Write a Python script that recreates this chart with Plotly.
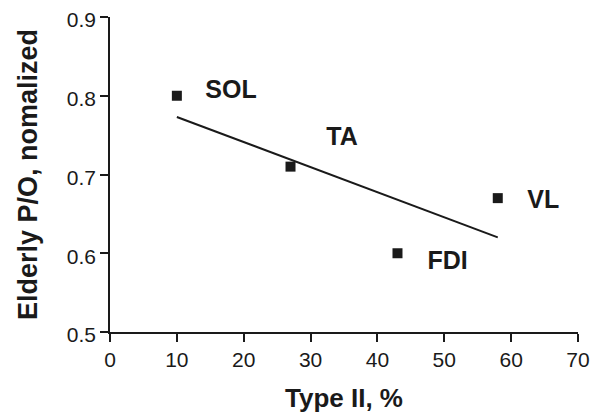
import numpy as np
import plotly.graph_objects as go

muscles = ["SOL", "TA", "FDI", "VL"]
type_ii = [10, 27, 43, 58]
po_norm = [0.80, 0.71, 0.60, 0.67]
label_x = [18.1, 34.7, 50.5, 64.8]
label_y = [0.805, 0.745, 0.588, 0.666]
x_ticks = [0, 10, 20, 30, 40, 50, 60, 70]
y_ticks = [0.5, 0.6, 0.7, 0.8, 0.9]

slope, intercept = np.polyfit(type_ii, po_norm, 1)
fit_x = [min(type_ii), max(type_ii)]
fit_y = [slope * v + intercept for v in fit_x]

FONT = "Liberation Sans, Arial, sans-serif"
INK = "#1a1a1a"

fig = go.Figure()
fig.add_trace(go.Scatter(x=fit_x, y=fit_y, mode="lines",
                         line=dict(color=INK, width=2), showlegend=False))
fig.add_trace(go.Scatter(x=type_ii, y=po_norm, mode="markers",
                         marker=dict(symbol="square", size=10, color=INK),
                         showlegend=False))
fig.add_trace(go.Scatter(x=label_x, y=label_y, mode="text",
                         text=["<b>%s</b>" % m for m in muscles],
                         textfont=dict(family=FONT, size=25, color=INK),
                         showlegend=False))

axis_font = dict(family=FONT, size=21, color=INK)
fig.update_xaxes(range=[0, 70], tickvals=x_ticks, ticks="outside", ticklen=8,
                 tickwidth=1.6, tickcolor=INK, showline=True, linecolor=INK, linewidth=1.6,
                 showgrid=False, zeroline=False, tickfont=axis_font, ticklabeloverflow="allow",
                 automargin=False,
                 title=dict(text="<b>Type II, %</b>", font=dict(family=FONT, size=26, color=INK), standoff=19))
fig.update_yaxes(range=[0.5, 0.9], tickvals=y_ticks, tickformat=".1f", ticks="outside", ticklen=8,
                 tickwidth=1.6, tickcolor=INK, showline=True, linecolor=INK, linewidth=1.6,
                 showgrid=False, zeroline=False, tickfont=axis_font, ticklabeloverflow="allow",
                 ticklabelshift=3, automargin=False,
                 title=dict(text="<b>Elderly P/O, nomalized</b>", font=dict(family=FONT, size=27, color=INK), standoff=21))
fig.update_layout(width=607, height=416, margin=dict(l=102, r=37, t=9, b=92),
                  plot_bgcolor="white", paper_bgcolor="white")
fig.write_html("out.html")
